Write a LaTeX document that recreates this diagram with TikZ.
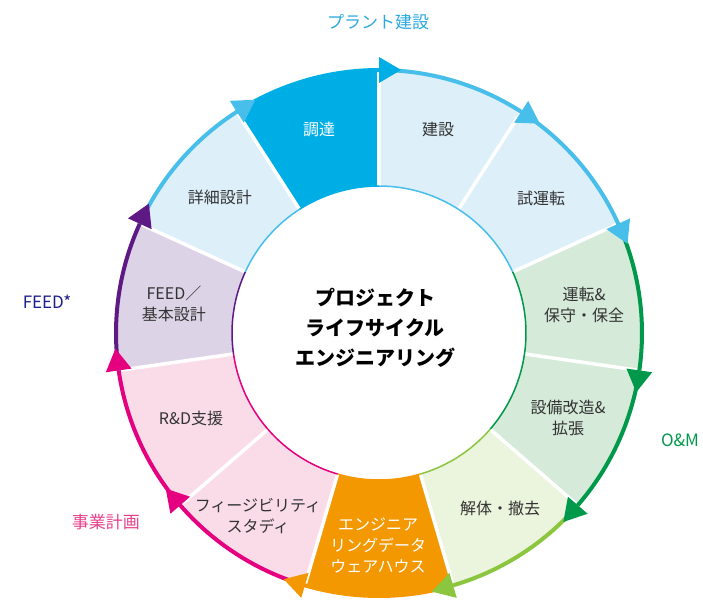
\documentclass[tikz,border=0pt]{standalone}
\usepackage{fontspec}
\setmainfont{Noto Sans CJK JP}
\definecolor{lbfill}{HTML}{DDEFF9}
\definecolor{lbline}{HTML}{48BEEA}
\definecolor{dbfill}{HTML}{00AEE6}
\definecolor{grfill}{HTML}{D5EAD8}
\definecolor{grline}{HTML}{00984A}
\definecolor{lgfill}{HTML}{EBF4DC}
\definecolor{lgline}{HTML}{8CC63F}
\definecolor{orfill}{HTML}{F39800}
\definecolor{pkfill}{HTML}{FADCE9}
\definecolor{pkline}{HTML}{E4007F}
\definecolor{ppfill}{HTML}{DDD3E6}
\definecolor{ppline}{HTML}{5F1985}
\definecolor{txtgray}{HTML}{333333}
\definecolor{plttxt}{HTML}{29A9E0}
\definecolor{feedtxt}{HTML}{1D2088}
\definecolor{bizz}{HTML}{E8418C}
\def\ringcolors{lbfill/lbline,lbfill/lbline,grfill/grline,grfill/grline,lgfill/lgline,orfill/orfill,pkfill/pkline,pkfill/pkline,ppfill/ppline,lbfill/lbline,dbfill/dbfill}
\begin{document}
\begin{tikzpicture}[x=1pt,y=1pt,
    seg/.style={align=center,font=\fontsize{16}{21}\selectfont,text=txtgray},
    segw/.style={seg,text=white},
    grp/.style={font=\fontsize{17}{20}\selectfont}]
\useasboundingbox (-379,-267) rectangle (324,333);
\foreach \fc/\lc [count=\i from 0] in \ringcolors {
  \pgfmathsetmacro\s{90-\i*360/11}
  \pgfmathsetmacro\e{\s-360/11}
  \fill[\fc] (\s:147) arc[start angle=\s,end angle=\e,radius=147]
    -- (\e:263) arc[start angle=\e,end angle=\s,radius=263] -- cycle;
}
\foreach \i in {0,...,10}
  \draw[white,line width=3.5] ({90-\i*360/11}:145) -- ({90-\i*360/11}:263);
\foreach \fc/\lc [count=\i from 0] in \ringcolors {
  \pgfmathsetmacro\s{90-\i*360/11}
  \pgfmathsetmacro\e{\s-360/11}
  \draw[\lc,line width=4] (\s:263) arc[start angle=\s,end angle=\e,radius=263];
  \draw[\lc,line width=1.5] (\s:147) arc[start angle=\s,end angle=\e,radius=147];
}
\foreach \fc/\lc [count=\i from 0] in \ringcolors {
  \pgfmathsetmacro\e{90-(\i+1)*360/11}
  \fill[\lc] (\e:250) -- (\e:276) -- ({\e-4.8}:264) -- cycle;
}

\node[seg] (kensetsu) at (59,203) {建設};
\node[seg] (shiunten) at (162,135) {試運転};
\node[seg] (hoshu) at (205,28) {運転\&\\保守・保全};
\node[seg] (kaizou) at (189,-85) {設備改造\&\\拡張};
\node[seg] (kaitai) at (121,-175) {解体・撤去};
\node[segw] (edw) at (-1,-212) {エンジニア\\リングデータ\\ウェアハウス};
\node[seg] (fs) at (-121,-183) {フィージビリティ\\スタディ};
\node[seg] (rd) at (-188,-85) {R\&D支援};
\node[seg] (feed) at (-205,29) {FEED／\\基本設計};
\node[seg] (shousai) at (-159,136) {詳細設計};
\node[segw] (choutatsu) at (-60,204) {調達};
\node[align=center,font=\fontsize{20}{30}\selectfont\bfseries] (title) at (-4,5)
  {プロジェクト\\ライフサイクル\\エンジニアリング};

\node[grp,text=plttxt] (plant) at (-1,311) {プラント建設};
\node[grp,text=feedtxt] (feedgrp) at (-332,31) {FEED*};
\node[grp,text=grline] (om) at (301,-107) {O\&M};
\node[grp,text=bizz] (jigyou) at (-273,-189) {事業計画};
\end{tikzpicture}
\end{document}
